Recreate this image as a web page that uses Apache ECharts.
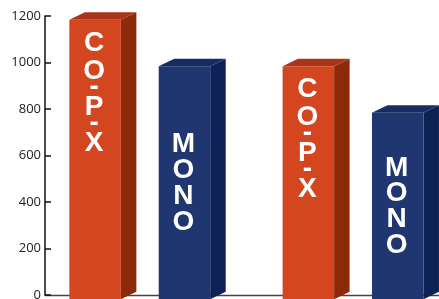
<!DOCTYPE html>
<html><head><meta charset="utf-8">
<script src="https://cdn.jsdelivr.net/npm/echarts@6/dist/echarts.min.js"></script>
<style>html,body{margin:0;padding:0;background:#fff}#c{width:439px;height:299px}</style>
</head><body><div id="c"></div>
<script>
const categories = ['Group 1', 'Group 2'];
const seriesNames = ['CO-P-X', 'MONO'];
const copxValues = [1200, 1000];
const monoValues = [1000, 800];
const yMin = 0, yMax = 1200, yStep = 200;

const palette = [
  { front: '#D3461F', top: '#A8341A', side: '#8C2A09' },
  { front: '#1F3670', top: '#172C62', side: '#0C2154' }
];
const offsets = [-0.265, 0.154];

function makeRender(si) {
  return function (params, api) {
    const cat = api.value(0), val = api.value(1);
    const band = api.size([1, 0])[0];
    const c = api.coord([cat, val]);
    const b = api.coord([cat, 0]);
    const w = band * 0.2415, dx = band * 0.0727, dy = 7.5;
    const cx = c[0] + offsets[si] * band;
    const x0 = cx - w / 2, x1 = cx + w / 2;
    const yt = c[1] + dy / 2, yb = b[1] + dy / 2 + 0.5;
    const col = palette[si];
    const name = seriesNames[si];
    const chars = name.split('');
    const hasHyphen = name.indexOf('-') >= 0;
    const letterStep = hasHyphen ? 28 : 25.7;
    const hyStep = 8;
    // compute vertical centers for each glyph
    const centers = [];
    let y = 0;
    chars.forEach((ch, i) => {
      const h = ch === '-' ? hyStep : letterStep;
      centers.push(y + h / 2);
      y += h;
    });
    const total = y;
    const startY = hasHyphen ? yt + 9.5 : (yt + yb) / 2 - total / 2 + 0.5;
    const children = [
      { type: 'polygon', shape: { points: [[x1, yt], [x1 + dx, yt - dy], [x1 + dx, yb - dy], [x1, yb]] }, style: { fill: col.side } },
      { type: 'polygon', shape: { points: [[x0, yt], [x1, yt], [x1 + dx, yt - dy], [x0 + dx, yt - dy]] }, style: { fill: col.top } },
      { type: 'rect', shape: { x: x0, y: yt, width: w, height: yb - yt }, style: { fill: col.front } }
    ];
    chars.forEach((ch, i) => {
      children.push({
        type: 'text',
        style: {
          text: ch, x: cx - 1, y: startY + centers[i] + (ch === '-' ? -2 : 0),
          align: 'center', verticalAlign: 'middle', fill: '#fff',
          fontSize: 28, fontWeight: 'bold', fontFamily: 'Liberation Sans'
        }
      });
    });
    return { type: 'group', children: children };
  };
}

const chart = echarts.init(document.getElementById('c'), null, { renderer: 'canvas' });
chart.setOption({
  animation: false,
  grid: { left: 45, top: 16, bottom: 4, width: 426.5, outerBoundsMode: 'none', containLabel: false },
  xAxis: {
    type: 'category', data: categories,
    axisLine: { show: true, lineStyle: { color: '#444', width: 1.3 } },
    axisTick: { show: false }, axisLabel: { show: false }, splitLine: { show: false }
  },
  yAxis: {
    type: 'value', min: yMin, max: yMax, interval: yStep,
    axisLine: { show: true, lineStyle: { color: '#111', width: 1.5 } },
    axisTick: { show: true, inside: true, length: 6, lineStyle: { color: '#111', width: 1.5 } },
    axisLabel: { margin: 4, color: '#222', fontSize: 13, fontFamily: 'Open Sans', formatter: v => String(v) },
    splitLine: { show: false }
  },
  series: [
    { type: 'custom', name: seriesNames[0], renderItem: makeRender(0), data: copxValues.map((v, i) => [i, v]) },
    { type: 'custom', name: seriesNames[1], renderItem: makeRender(1), data: monoValues.map((v, i) => [i, v]) }
  ]
});
</script></body></html>
